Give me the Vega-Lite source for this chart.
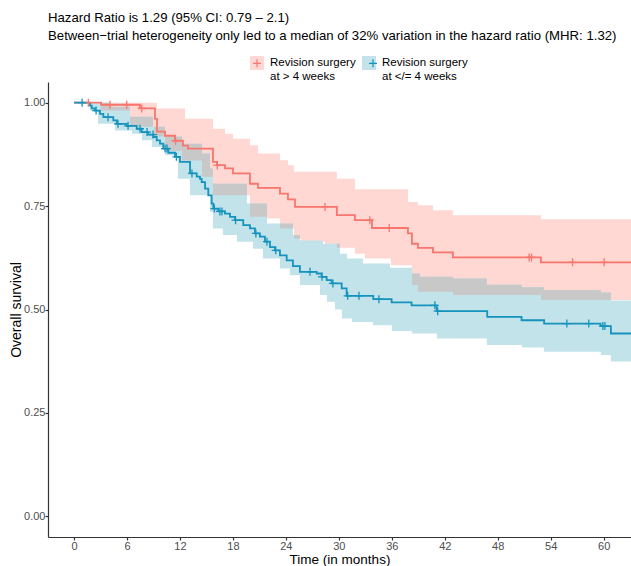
{
  "$schema": "https://vega.github.io/schema/vega-lite/v6.json",
  "width": 583,
  "height": 455,
  "autosize": {"type": "none"},
  "padding": {"left": 48, "top": 82, "right": 0, "bottom": 29},
  "background": "white",
  "title": {
    "text": ["Hazard Ratio is 1.29 (95% CI: 0.79 – 2.1)", "Between−trial heterogeneity only led to a median of 32% variation in the hazard ratio (MHR: 1.32)"],
    "anchor": "start",
    "frame": "group",
    "font": "Liberation Sans",
    "fontSize": 13.2,
    "fontWeight": "normal",
    "color": "black",
    "lineHeight": 18,
    "offset": 13
  },
  "datasets": {
    "bands": [
      {"band": "at > 4 weeks", "time": 0, "lower": 1.0, "upper": 1.0},
      {"band": "at > 4 weeks", "time": 3.06, "lower": 0.981, "upper": 1.0},
      {"band": "at > 4 weeks", "time": 6.34, "lower": 0.942, "upper": 1.0},
      {"band": "at > 4 weeks", "time": 9.06, "lower": 0.918, "upper": 1.0},
      {"band": "at > 4 weeks", "time": 9.40, "lower": 0.918, "upper": 0.986},
      {"band": "at > 4 weeks", "time": 10.31, "lower": 0.884, "upper": 0.986},
      {"band": "at > 4 weeks", "time": 12.23, "lower": 0.860, "upper": 0.986},
      {"band": "at > 4 weeks", "time": 12.57, "lower": 0.860, "upper": 0.961},
      {"band": "at > 4 weeks", "time": 14.50, "lower": 0.821, "upper": 0.961},
      {"band": "at > 4 weeks", "time": 15.74, "lower": 0.776, "upper": 0.937},
      {"band": "at > 4 weeks", "time": 17.10, "lower": 0.776, "upper": 0.925},
      {"band": "at > 4 weeks", "time": 18.01, "lower": 0.776, "upper": 0.913},
      {"band": "at > 4 weeks", "time": 19.93, "lower": 0.724, "upper": 0.897},
      {"band": "at > 4 weeks", "time": 20.84, "lower": 0.724, "upper": 0.877},
      {"band": "at > 4 weeks", "time": 21.86, "lower": 0.720, "upper": 0.877},
      {"band": "at > 4 weeks", "time": 23.33, "lower": 0.696, "upper": 0.861},
      {"band": "at > 4 weeks", "time": 24.24, "lower": 0.696, "upper": 0.849},
      {"band": "at > 4 weeks", "time": 24.92, "lower": 0.671, "upper": 0.833},
      {"band": "at > 4 weeks", "time": 25.71, "lower": 0.664, "upper": 0.833},
      {"band": "at > 4 weeks", "time": 28.43, "lower": 0.655, "upper": 0.833},
      {"band": "at > 4 weeks", "time": 29.78, "lower": 0.649, "upper": 0.816},
      {"band": "at > 4 weeks", "time": 31.82, "lower": 0.635, "upper": 0.791},
      {"band": "at > 4 weeks", "time": 32.96, "lower": 0.623, "upper": 0.791},
      {"band": "at > 4 weeks", "time": 35.90, "lower": 0.607, "upper": 0.791},
      {"band": "at > 4 weeks", "time": 37.83, "lower": 0.607, "upper": 0.760},
      {"band": "at > 4 weeks", "time": 38.28, "lower": 0.559, "upper": 0.760},
      {"band": "at > 4 weeks", "time": 38.96, "lower": 0.543, "upper": 0.752},
      {"band": "at > 4 weeks", "time": 40.66, "lower": 0.543, "upper": 0.740},
      {"band": "at > 4 weeks", "time": 42.92, "lower": 0.535, "upper": 0.728},
      {"band": "at > 4 weeks", "time": 52.89, "lower": 0.523, "upper": 0.718},
      {"band": "at > 4 weeks", "time": 63.1, "lower": 0.523, "upper": 0.718},
      {"band": "at </= 4 weeks", "time": 0, "lower": 1.0, "upper": 1.0},
      {"band": "at </= 4 weeks", "time": 1.81, "lower": 0.981, "upper": 1.0},
      {"band": "at </= 4 weeks", "time": 2.72, "lower": 0.949, "upper": 1.0},
      {"band": "at </= 4 weeks", "time": 4.08, "lower": 0.949, "upper": 0.990},
      {"band": "at </= 4 weeks", "time": 4.64, "lower": 0.933, "upper": 0.990},
      {"band": "at </= 4 weeks", "time": 6.34, "lower": 0.933, "upper": 0.966},
      {"band": "at </= 4 weeks", "time": 6.57, "lower": 0.925, "upper": 0.966},
      {"band": "at </= 4 weeks", "time": 7.70, "lower": 0.909, "upper": 0.966},
      {"band": "at </= 4 weeks", "time": 8.83, "lower": 0.893, "upper": 0.966},
      {"band": "at </= 4 weeks", "time": 8.95, "lower": 0.893, "upper": 0.942},
      {"band": "at </= 4 weeks", "time": 10.31, "lower": 0.873, "upper": 0.918},
      {"band": "at </= 4 weeks", "time": 11.78, "lower": 0.816, "upper": 0.918},
      {"band": "at </= 4 weeks", "time": 12.23, "lower": 0.816, "upper": 0.901},
      {"band": "at </= 4 weeks", "time": 13.14, "lower": 0.776, "upper": 0.901},
      {"band": "at </= 4 weeks", "time": 14.50, "lower": 0.776, "upper": 0.877},
      {"band": "at </= 4 weeks", "time": 15.40, "lower": 0.736, "upper": 0.841},
      {"band": "at </= 4 weeks", "time": 15.74, "lower": 0.696, "upper": 0.804},
      {"band": "at </= 4 weeks", "time": 16.87, "lower": 0.680, "upper": 0.804},
      {"band": "at </= 4 weeks", "time": 18.46, "lower": 0.664, "upper": 0.804},
      {"band": "at </= 4 weeks", "time": 19.59, "lower": 0.664, "upper": 0.756},
      {"band": "at </= 4 weeks", "time": 20.27, "lower": 0.647, "upper": 0.756},
      {"band": "at </= 4 weeks", "time": 21.40, "lower": 0.623, "upper": 0.756},
      {"band": "at </= 4 weeks", "time": 21.86, "lower": 0.623, "upper": 0.708},
      {"band": "at </= 4 weeks", "time": 23.33, "lower": 0.599, "upper": 0.708},
      {"band": "at </= 4 weeks", "time": 24.46, "lower": 0.583, "upper": 0.708},
      {"band": "at </= 4 weeks", "time": 24.80, "lower": 0.583, "upper": 0.680},
      {"band": "at </= 4 weeks", "time": 25.59, "lower": 0.559, "upper": 0.667},
      {"band": "at </= 4 weeks", "time": 27.86, "lower": 0.535, "upper": 0.667},
      {"band": "at </= 4 weeks", "time": 28.20, "lower": 0.535, "upper": 0.659},
      {"band": "at </= 4 weeks", "time": 28.65, "lower": 0.519, "upper": 0.659},
      {"band": "at </= 4 weeks", "time": 29.56, "lower": 0.500, "upper": 0.659},
      {"band": "at </= 4 weeks", "time": 30.12, "lower": 0.500, "upper": 0.635},
      {"band": "at </= 4 weeks", "time": 30.35, "lower": 0.478, "upper": 0.635},
      {"band": "at </= 4 weeks", "time": 30.92, "lower": 0.478, "upper": 0.623},
      {"band": "at </= 4 weeks", "time": 31.48, "lower": 0.470, "upper": 0.623},
      {"band": "at </= 4 weeks", "time": 32.73, "lower": 0.470, "upper": 0.611},
      {"band": "at </= 4 weeks", "time": 33.86, "lower": 0.462, "upper": 0.611},
      {"band": "at </= 4 weeks", "time": 35.79, "lower": 0.462, "upper": 0.601},
      {"band": "at </= 4 weeks", "time": 36.01, "lower": 0.448, "upper": 0.601},
      {"band": "at </= 4 weeks", "time": 38.28, "lower": 0.442, "upper": 0.587},
      {"band": "at </= 4 weeks", "time": 39.18, "lower": 0.442, "upper": 0.579},
      {"band": "at </= 4 weeks", "time": 41.11, "lower": 0.430, "upper": 0.579},
      {"band": "at </= 4 weeks", "time": 42.92, "lower": 0.430, "upper": 0.575},
      {"band": "at </= 4 weeks", "time": 46.77, "lower": 0.414, "upper": 0.560},
      {"band": "at </= 4 weeks", "time": 50.74, "lower": 0.408, "upper": 0.554},
      {"band": "at </= 4 weeks", "time": 53.23, "lower": 0.398, "upper": 0.547},
      {"band": "at </= 4 weeks", "time": 59.68, "lower": 0.390, "upper": 0.541},
      {"band": "at </= 4 weeks", "time": 60.82, "lower": 0.374, "upper": 0.522},
      {"band": "at </= 4 weeks", "time": 63.1, "lower": 0.374, "upper": 0.522}
    ],
    "overlap": [
      {"time": 0, "lower": 1.0, "upper": 1.0},
      {"time": 3.06, "lower": 0.981, "upper": 1.0},
      {"time": 4.08, "lower": 0.981, "upper": 0.990},
      {"time": 6.34, "lower": 0.942, "upper": 0.966},
      {"time": 8.95, "lower": 0.942, "upper": 0.942},
      {"time": 9.06, "lower": 0.918, "upper": 0.942},
      {"time": 10.31, "lower": 0.884, "upper": 0.918},
      {"time": 12.23, "lower": 0.860, "upper": 0.901},
      {"time": 14.50, "lower": 0.821, "upper": 0.877},
      {"time": 15.40, "lower": 0.821, "upper": 0.841},
      {"time": 15.74, "lower": 0.776, "upper": 0.804},
      {"time": 19.59, "lower": 0.760, "upper": 0.760},
      {"time": 19.93, "lower": 0.724, "upper": 0.756},
      {"time": 21.86, "lower": 0.710, "upper": 0.710},
      {"time": 23.33, "lower": 0.696, "upper": 0.708},
      {"time": 24.80, "lower": 0.690, "upper": 0.690},
      {"time": 24.92, "lower": 0.671, "upper": 0.680},
      {"time": 25.59, "lower": 0.667, "upper": 0.667},
      {"time": 29.78, "lower": 0.649, "upper": 0.659},
      {"time": 30.12, "lower": 0.640, "upper": 0.640},
      {"time": 38.28, "lower": 0.559, "upper": 0.587},
      {"time": 38.96, "lower": 0.543, "upper": 0.587},
      {"time": 39.18, "lower": 0.543, "upper": 0.579},
      {"time": 42.92, "lower": 0.535, "upper": 0.575},
      {"time": 46.77, "lower": 0.535, "upper": 0.560},
      {"time": 50.74, "lower": 0.535, "upper": 0.554},
      {"time": 52.89, "lower": 0.523, "upper": 0.554},
      {"time": 53.23, "lower": 0.523, "upper": 0.547},
      {"time": 59.68, "lower": 0.523, "upper": 0.541},
      {"time": 60.82, "lower": 0.520, "upper": 0.520},
      {"time": 63.1, "lower": 0.520, "upper": 0.520}
    ],
    "lines": [
      {"group": "Revision surgery at > 4 weeks", "time": 0, "surv": 1.0},
      {"group": "Revision surgery at > 4 weeks", "time": 3.06, "surv": 0.995},
      {"group": "Revision surgery at > 4 weeks", "time": 7.47, "surv": 0.986},
      {"group": "Revision surgery at > 4 weeks", "time": 9.17, "surv": 0.961},
      {"group": "Revision surgery at > 4 weeks", "time": 9.40, "surv": 0.930},
      {"group": "Revision surgery at > 4 weeks", "time": 10.31, "surv": 0.920},
      {"group": "Revision surgery at > 4 weeks", "time": 11.44, "surv": 0.908},
      {"group": "Revision surgery at > 4 weeks", "time": 12.34, "surv": 0.896},
      {"group": "Revision surgery at > 4 weeks", "time": 12.91, "surv": 0.889},
      {"group": "Revision surgery at > 4 weeks", "time": 15.74, "surv": 0.857},
      {"group": "Revision surgery at > 4 weeks", "time": 16.19, "surv": 0.849},
      {"group": "Revision surgery at > 4 weeks", "time": 17.10, "surv": 0.841},
      {"group": "Revision surgery at > 4 weeks", "time": 18.01, "surv": 0.829},
      {"group": "Revision surgery at > 4 weeks", "time": 19.93, "surv": 0.804},
      {"group": "Revision surgery at > 4 weeks", "time": 20.84, "surv": 0.794},
      {"group": "Revision surgery at > 4 weeks", "time": 23.33, "surv": 0.780},
      {"group": "Revision surgery at > 4 weeks", "time": 24.24, "surv": 0.766},
      {"group": "Revision surgery at > 4 weeks", "time": 25.03, "surv": 0.748},
      {"group": "Revision surgery at > 4 weeks", "time": 29.78, "surv": 0.728},
      {"group": "Revision surgery at > 4 weeks", "time": 31.82, "surv": 0.716},
      {"group": "Revision surgery at > 4 weeks", "time": 33.75, "surv": 0.697},
      {"group": "Revision surgery at > 4 weeks", "time": 37.83, "surv": 0.684},
      {"group": "Revision surgery at > 4 weeks", "time": 38.28, "surv": 0.659},
      {"group": "Revision surgery at > 4 weeks", "time": 38.96, "surv": 0.649},
      {"group": "Revision surgery at > 4 weeks", "time": 40.66, "surv": 0.638},
      {"group": "Revision surgery at > 4 weeks", "time": 42.92, "surv": 0.626},
      {"group": "Revision surgery at > 4 weeks", "time": 52.89, "surv": 0.614},
      {"group": "Revision surgery at > 4 weeks", "time": 63.1, "surv": 0.614},
      {"group": "Revision surgery at </= 4 weeks", "time": 0, "surv": 1.0},
      {"group": "Revision surgery at </= 4 weeks", "time": 1.81, "surv": 0.993},
      {"group": "Revision surgery at </= 4 weeks", "time": 2.00, "surv": 0.986},
      {"group": "Revision surgery at </= 4 weeks", "time": 2.38, "surv": 0.981},
      {"group": "Revision surgery at </= 4 weeks", "time": 2.94, "surv": 0.973},
      {"group": "Revision surgery at </= 4 weeks", "time": 3.32, "surv": 0.965},
      {"group": "Revision surgery at </= 4 weeks", "time": 4.45, "surv": 0.957},
      {"group": "Revision surgery at </= 4 weeks", "time": 4.84, "surv": 0.949},
      {"group": "Revision surgery at </= 4 weeks", "time": 5.97, "surv": 0.944},
      {"group": "Revision surgery at </= 4 weeks", "time": 7.10, "surv": 0.937},
      {"group": "Revision surgery at </= 4 weeks", "time": 7.67, "surv": 0.929},
      {"group": "Revision surgery at </= 4 weeks", "time": 8.41, "surv": 0.923},
      {"group": "Revision surgery at </= 4 weeks", "time": 8.98, "surv": 0.917},
      {"group": "Revision surgery at </= 4 weeks", "time": 9.37, "surv": 0.909},
      {"group": "Revision surgery at </= 4 weeks", "time": 9.74, "surv": 0.901},
      {"group": "Revision surgery at </= 4 weeks", "time": 10.11, "surv": 0.889},
      {"group": "Revision surgery at </= 4 weeks", "time": 10.68, "surv": 0.879},
      {"group": "Revision surgery at </= 4 weeks", "time": 11.44, "surv": 0.869},
      {"group": "Revision surgery at </= 4 weeks", "time": 12.00, "surv": 0.857},
      {"group": "Revision surgery at </= 4 weeks", "time": 13.14, "surv": 0.829},
      {"group": "Revision surgery at </= 4 weeks", "time": 13.90, "surv": 0.821},
      {"group": "Revision surgery at </= 4 weeks", "time": 14.27, "surv": 0.816},
      {"group": "Revision surgery at </= 4 weeks", "time": 14.46, "surv": 0.808},
      {"group": "Revision surgery at </= 4 weeks", "time": 14.84, "surv": 0.792},
      {"group": "Revision surgery at </= 4 weeks", "time": 15.21, "surv": 0.776},
      {"group": "Revision surgery at </= 4 weeks", "time": 15.59, "surv": 0.756},
      {"group": "Revision surgery at </= 4 weeks", "time": 15.78, "surv": 0.744},
      {"group": "Revision surgery at </= 4 weeks", "time": 16.34, "surv": 0.737},
      {"group": "Revision surgery at </= 4 weeks", "time": 17.10, "surv": 0.732},
      {"group": "Revision surgery at </= 4 weeks", "time": 17.67, "surv": 0.724},
      {"group": "Revision surgery at </= 4 weeks", "time": 18.23, "surv": 0.716},
      {"group": "Revision surgery at </= 4 weeks", "time": 19.17, "surv": 0.704},
      {"group": "Revision surgery at </= 4 weeks", "time": 19.93, "surv": 0.696},
      {"group": "Revision surgery at </= 4 weeks", "time": 20.50, "surv": 0.684},
      {"group": "Revision surgery at </= 4 weeks", "time": 21.06, "surv": 0.676},
      {"group": "Revision surgery at </= 4 weeks", "time": 21.63, "surv": 0.664},
      {"group": "Revision surgery at </= 4 weeks", "time": 22.20, "surv": 0.651},
      {"group": "Revision surgery at </= 4 weeks", "time": 22.76, "surv": 0.643},
      {"group": "Revision surgery at </= 4 weeks", "time": 23.33, "surv": 0.631},
      {"group": "Revision surgery at </= 4 weeks", "time": 24.09, "surv": 0.619},
      {"group": "Revision surgery at </= 4 weeks", "time": 24.80, "surv": 0.605},
      {"group": "Revision surgery at </= 4 weeks", "time": 25.59, "surv": 0.591},
      {"group": "Revision surgery at </= 4 weeks", "time": 27.49, "surv": 0.587},
      {"group": "Revision surgery at </= 4 weeks", "time": 28.05, "surv": 0.579},
      {"group": "Revision surgery at </= 4 weeks", "time": 28.62, "surv": 0.571},
      {"group": "Revision surgery at </= 4 weeks", "time": 29.18, "surv": 0.563},
      {"group": "Revision surgery at </= 4 weeks", "time": 30.32, "surv": 0.551},
      {"group": "Revision surgery at </= 4 weeks", "time": 30.88, "surv": 0.533},
      {"group": "Revision surgery at </= 4 weeks", "time": 33.90, "surv": 0.525},
      {"group": "Revision surgery at </= 4 weeks", "time": 35.98, "surv": 0.517},
      {"group": "Revision surgery at </= 4 weeks", "time": 38.24, "surv": 0.510},
      {"group": "Revision surgery at </= 4 weeks", "time": 41.08, "surv": 0.496},
      {"group": "Revision surgery at </= 4 weeks", "time": 46.81, "surv": 0.482},
      {"group": "Revision surgery at </= 4 weeks", "time": 50.70, "surv": 0.474},
      {"group": "Revision surgery at </= 4 weeks", "time": 53.26, "surv": 0.466},
      {"group": "Revision surgery at </= 4 weeks", "time": 59.65, "surv": 0.460},
      {"group": "Revision surgery at </= 4 weeks", "time": 60.82, "surv": 0.442},
      {"group": "Revision surgery at </= 4 weeks", "time": 63.1, "surv": 0.442}
    ],
    "censor": [
      {"group": "Revision surgery at > 4 weeks", "time": 1.62, "surv": 1.0},
      {"group": "Revision surgery at > 4 weeks", "time": 4.08, "surv": 0.995},
      {"group": "Revision surgery at > 4 weeks", "time": 5.97, "surv": 0.995},
      {"group": "Revision surgery at > 4 weeks", "time": 7.67, "surv": 0.986},
      {"group": "Revision surgery at > 4 weeks", "time": 11.5, "surv": 0.908},
      {"group": "Revision surgery at > 4 weeks", "time": 16.23, "surv": 0.849},
      {"group": "Revision surgery at > 4 weeks", "time": 28.43, "surv": 0.748},
      {"group": "Revision surgery at > 4 weeks", "time": 33.52, "surv": 0.716},
      {"group": "Revision surgery at > 4 weeks", "time": 35.71, "surv": 0.697},
      {"group": "Revision surgery at > 4 weeks", "time": 51.56, "surv": 0.626},
      {"group": "Revision surgery at > 4 weeks", "time": 51.83, "surv": 0.626},
      {"group": "Revision surgery at > 4 weeks", "time": 56.48, "surv": 0.614},
      {"group": "Revision surgery at > 4 weeks", "time": 60.06, "surv": 0.614},
      {"group": "Revision surgery at </= 4 weeks", "time": 0.91, "surv": 1.0},
      {"group": "Revision surgery at </= 4 weeks", "time": 2.5, "surv": 0.981},
      {"group": "Revision surgery at </= 4 weeks", "time": 3.85, "surv": 0.965},
      {"group": "Revision surgery at </= 4 weeks", "time": 4.98, "surv": 0.949},
      {"group": "Revision surgery at </= 4 weeks", "time": 6.12, "surv": 0.944},
      {"group": "Revision surgery at </= 4 weeks", "time": 7.47, "surv": 0.937},
      {"group": "Revision surgery at </= 4 weeks", "time": 8.27, "surv": 0.929},
      {"group": "Revision surgery at </= 4 weeks", "time": 8.95, "surv": 0.923},
      {"group": "Revision surgery at </= 4 weeks", "time": 10.31, "surv": 0.889},
      {"group": "Revision surgery at </= 4 weeks", "time": 10.53, "surv": 0.889},
      {"group": "Revision surgery at </= 4 weeks", "time": 11.6, "surv": 0.869},
      {"group": "Revision surgery at </= 4 weeks", "time": 13.36, "surv": 0.829},
      {"group": "Revision surgery at </= 4 weeks", "time": 15.9, "surv": 0.744},
      {"group": "Revision surgery at </= 4 weeks", "time": 16.53, "surv": 0.737},
      {"group": "Revision surgery at </= 4 weeks", "time": 16.76, "surv": 0.737},
      {"group": "Revision surgery at </= 4 weeks", "time": 18.3, "surv": 0.716},
      {"group": "Revision surgery at </= 4 weeks", "time": 20.6, "surv": 0.684},
      {"group": "Revision surgery at </= 4 weeks", "time": 21.86, "surv": 0.664},
      {"group": "Revision surgery at </= 4 weeks", "time": 22.85, "surv": 0.643},
      {"group": "Revision surgery at </= 4 weeks", "time": 26.73, "surv": 0.591},
      {"group": "Revision surgery at </= 4 weeks", "time": 28.09, "surv": 0.579},
      {"group": "Revision surgery at </= 4 weeks", "time": 29.33, "surv": 0.563},
      {"group": "Revision surgery at </= 4 weeks", "time": 31.0, "surv": 0.533},
      {"group": "Revision surgery at </= 4 weeks", "time": 32.28, "surv": 0.533},
      {"group": "Revision surgery at </= 4 weeks", "time": 34.54, "surv": 0.525},
      {"group": "Revision surgery at </= 4 weeks", "time": 40.88, "surv": 0.510},
      {"group": "Revision surgery at </= 4 weeks", "time": 41.2, "surv": 0.496},
      {"group": "Revision surgery at </= 4 weeks", "time": 55.83, "surv": 0.466},
      {"group": "Revision surgery at </= 4 weeks", "time": 58.32, "surv": 0.466},
      {"group": "Revision surgery at </= 4 weeks", "time": 59.91, "surv": 0.460},
      {"group": "Revision surgery at </= 4 weeks", "time": 60.14, "surv": 0.460}
    ]
  },
  "config": {
    "view": {"stroke": null},
    "font": "Liberation Sans",
    "axis": {
      "grid": false,
      "domainColor": "#333333",
      "domainWidth": 1.2,
      "tickColor": "#333333",
      "tickWidth": 1.2,
      "tickSize": 3,
      "labelColor": "#4d4d4d",
      "labelFontSize": 11,
      "labelFont": "Liberation Sans",
      "labelPadding": 0,
      "titleFont": "Liberation Sans",
      "titleFontSize": 14,
      "titleFontWeight": "normal",
      "titleColor": "black"
    }
  },
  "encoding": {
    "x": {
      "field": "time",
      "type": "quantitative",
      "scale": {"domain": [-2.95, 63.1], "nice": false, "zero": false},
      "axis": {"values": [0, 6, 12, 18, 24, 30, 36, 42, 48, 54, 60], "title": "Time (in months)", "titlePadding": 1, "titleFontSize": 13.5}
    }
  },
  "layer": [
    {
      "data": {"name": "bands"},
      "mark": {"type": "area", "interpolate": "step-after", "clip": true, "opacity": 1},
      "encoding": {
        "y": {
          "field": "lower",
          "type": "quantitative",
          "scale": {"domain": [-0.05, 1.05], "nice": false, "zero": false},
          "axis": {"values": [0, 0.25, 0.5, 0.75, 1], "format": ".2f", "title": "Overall survival", "titlePadding": 0}
        },
        "y2": {"field": "upper"},
        "fill": {
          "field": "band",
          "type": "nominal",
          "scale": {"domain": ["at > 4 weeks", "at </= 4 weeks"], "range": ["#FFD7D3", "#C2E3EA"]},
          "legend": {
            "orient": "none",
            "legendX": 202,
            "legendY": -26,
            "direction": "horizontal",
            "title": null,
            "symbolType": "square",
            "symbolSize": 196,
            "symbolStrokeWidth": 0,
            "symbolOpacity": 1,
            "labelExpr": "['Revision surgery', datum.label]",
            "labelFont": "Liberation Sans",
            "labelFontSize": 11.5,
            "labelColor": "black",
            "labelOffset": 6,
            "columnPadding": 6,
            "labelLimit": 300
          }
        }
      }
    },
    {
      "data": {"name": "overlap"},
      "mark": {"type": "area", "interpolate": "step-after", "clip": true, "color": "#C8C8C8", "opacity": 1},
      "encoding": {
        "y": {
          "field": "lower",
          "type": "quantitative",
          "scale": {"domain": [-0.05, 1.05], "nice": false, "zero": false},
          "axis": {"values": [0, 0.25, 0.5, 0.75, 1], "format": ".2f", "title": "Overall survival", "titlePadding": 0}
        },
        "y2": {"field": "upper"}
      }
    },
    {
      "data": {"name": "lines"},
      "mark": {"type": "line", "interpolate": "step-after", "strokeWidth": 1.8, "clip": true},
      "encoding": {
        "y": {
          "field": "surv",
          "type": "quantitative",
          "scale": {"domain": [-0.05, 1.05], "nice": false, "zero": false},
          "axis": {"values": [0, 0.25, 0.5, 0.75, 1], "format": ".2f", "title": "Overall survival", "titlePadding": 0}
        },
        "stroke": {
          "field": "group",
          "type": "nominal",
          "scale": {"domain": ["Revision surgery at > 4 weeks", "Revision surgery at </= 4 weeks"], "range": ["#F8766D", "#1593BD"]},
          "legend": {
            "orient": "none",
            "legendX": 204,
            "legendY": -24,
            "direction": "horizontal",
            "title": null,
            "symbolType": "M-1,0H1M0,-1V1",
            "symbolSize": 64,
            "symbolStrokeWidth": 1.2,
            "symbolFillColor": "transparent",
            "labelExpr": "''",
            "labelOffset": 0,
            "columnPadding": 102,
            "labelLimit": 300
          }
        }
      }
    },
    {
      "data": {"name": "censor"},
      "mark": {"type": "point", "shape": "M0,-1V1M-1,0H1", "filled": false, "size": 64, "strokeWidth": 1.3, "opacity": 1, "clip": true},
      "encoding": {
        "y": {
          "field": "surv",
          "type": "quantitative",
          "scale": {"domain": [-0.05, 1.05], "nice": false, "zero": false},
          "axis": {"values": [0, 0.25, 0.5, 0.75, 1], "format": ".2f", "title": "Overall survival", "titlePadding": 0}
        },
        "stroke": {"field": "group", "type": "nominal", "legend": null}
      }
    }
  ]
}
